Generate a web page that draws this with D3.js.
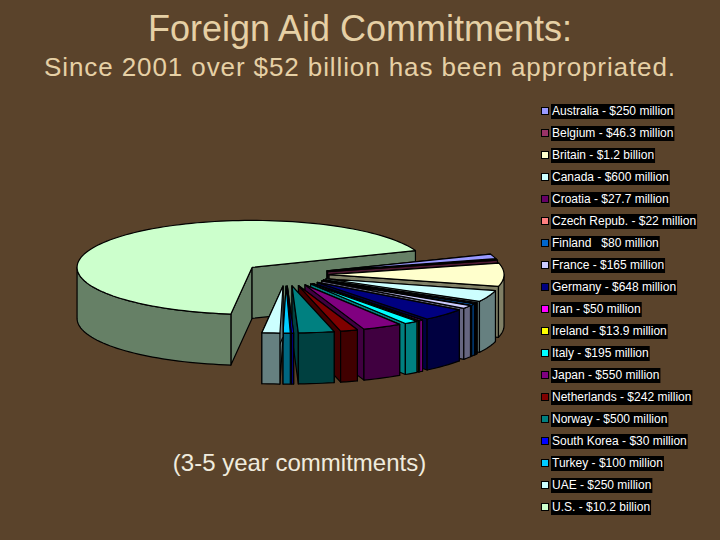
<!DOCTYPE html>
<html><head><meta charset="utf-8">
<script src="https://cdn.jsdelivr.net/npm/d3@7/dist/d3.min.js"></script>
<style>html,body{margin:0;padding:0;background:#5a432b}svg{display:block}</style>
</head><body><div id="c"></div>
<script>
const categories=["Australia","Belgium","Britain","Canada","Croatia","Czech Repub.","Finland","France","Germany","Iran","Ireland","Italy","Japan","Netherlands","Norway","South Korea","Turkey","UAE","U.S."];
const valuesMillions=[250,46.3,1200,600,27.7,22,80,165,648,50,13.9,195,550,242,500,30,100,250,10200];
const amountLabels=["- $250 million","- $46.3 million","- $1.2 billion","- $600 million","- $27.7 million","- $22 million","  $80 million","- $165 million","- $648 million","- $50 million","- $13.9 million","- $195 million","- $550 million","- $242 million","- $500 million","- $30 million","- $100 million","- $250 million","- $10.2 billion"];
const colors=["#9999ff","#993366","#ffffcc","#ccffff","#660066","#ff8080","#0066cc","#ccccff","#000080","#ff00ff","#ffff00","#00ffff","#800080","#800000","#008080","#0000ff","#00ccff","#ccffff","#ccffcc"];
const titleText="Foreign Aid Commitments:";
const subtitleText="Since 2001 over $52 billion has been appropriated.";
const noteText="(3-5 year commitments)";

const W=720,H=540;
const svg=d3.select("#c").append("svg").attr("width",W).attr("height",H);
svg.append("rect").attr("width",W).attr("height",H).attr("fill","#5a432b");

const x=d3.scaleLinear().domain([-1,1]).range([111,461]);
const y=d3.scaleLinear().domain([-1,1]).range([227.5,321.5]);
const depth=51, explode=0.246;
const rad=d=>d*Math.PI/180;
const pie=d3.pie().sort(null).startAngle(rad(69)).endAngle(rad(429));
const arcs=pie(valuesMillions);
const line=d3.line().x(p=>p[0]).y(p=>p[1]);
const dark=c=>{const r=d3.rgb(c);return d3.rgb(r.r*.5,r.g*.5,r.b*.5).formatHex();};

function pt(ox,oy,a,r,dz){return [x(ox+r*Math.sin(a)),y(oy-r*Math.cos(a))+dz];}
function sample(a0,a1){const n=Math.max(2,Math.ceil(Math.abs(a1-a0)/rad(2)));return d3.range(n+1).map(i=>a0+(a1-a0)*i/n);}

const g=svg.append("g").attr("stroke","#000").attr("stroke-width",1.2).attr("stroke-linejoin","round");
const order=[arcs.length-1,...d3.range(arcs.length-1)];
order.forEach(i=>{
  const s=arcs[i],mid=(s.startAngle+s.endAngle)/2;
  const ox=explode*Math.sin(mid),oy=-explode*Math.cos(mid);
  const c=colors[i],dc=dark(c);
  [s.startAngle,s.endAngle].forEach(a=>{
    g.append("path").attr("fill",dc).attr("d",line([pt(ox,oy,a,0,0),pt(ox,oy,a,1,0),pt(ox,oy,a,1,depth),pt(ox,oy,a,0,depth)])+"Z");
  });
  const v0=Math.max(s.startAngle,rad(90)),v1=Math.min(s.endAngle,rad(270));
  const v2=Math.max(s.startAngle,rad(450)),v3=Math.min(s.endAngle,rad(630));
  [[v0,v1],[v2,v3]].forEach(([a,b])=>{
    if(b>a){
      const as=sample(a,b);
      g.append("path").attr("fill",dc).attr("d",line([...as.map(t=>pt(ox,oy,t,1,0)),...as.slice().reverse().map(t=>pt(ox,oy,t,1,depth))])+"Z");
    }
  });
  g.append("path").attr("fill",c).attr("d",line([pt(ox,oy,0,0,0),...sample(s.startAngle,s.endAngle).map(t=>pt(ox,oy,t,1,0))])+"Z");
});

const font="'Liberation Sans',Arial,sans-serif";
svg.append("text").attr("x",360).attr("y",41).attr("text-anchor","middle").attr("font-family",font).attr("font-size",36).attr("fill","#e6d0a5").text(titleText);
svg.append("text").attr("x",360).attr("y",76).attr("text-anchor","middle").attr("font-family",font).attr("font-size",26).attr("letter-spacing",.9).attr("fill","#e6d0a5").text(subtitleText);
svg.append("text").attr("x",299.5).attr("y",471).attr("text-anchor","middle").attr("font-family",font).attr("font-size",24).attr("fill","#f0ebdd").text(noteText);

const ly=d3.scalePoint().domain(categories).range([111,507]);
const lg=svg.append("g");
categories.forEach((n,i)=>{
  const cy=ly(n);
  const t=lg.append("text").attr("x",552).attr("y",cy+4).attr("font-family",font).attr("font-size",12).attr("fill","#fff").attr("xml:space","preserve").style("white-space","pre").text(n+" "+amountLabels[i]);
  const w=t.node().getComputedTextLength();
  lg.insert("rect","text").attr("x",551).attr("y",cy-7).attr("width",w+2).attr("height",15).attr("fill","#000");
  lg.append("rect").attr("x",541.5).attr("y",cy-3.5).attr("width",7).attr("height",7).attr("fill",colors[i]).attr("stroke","#000").attr("stroke-width",1);
});
</script></body></html>
